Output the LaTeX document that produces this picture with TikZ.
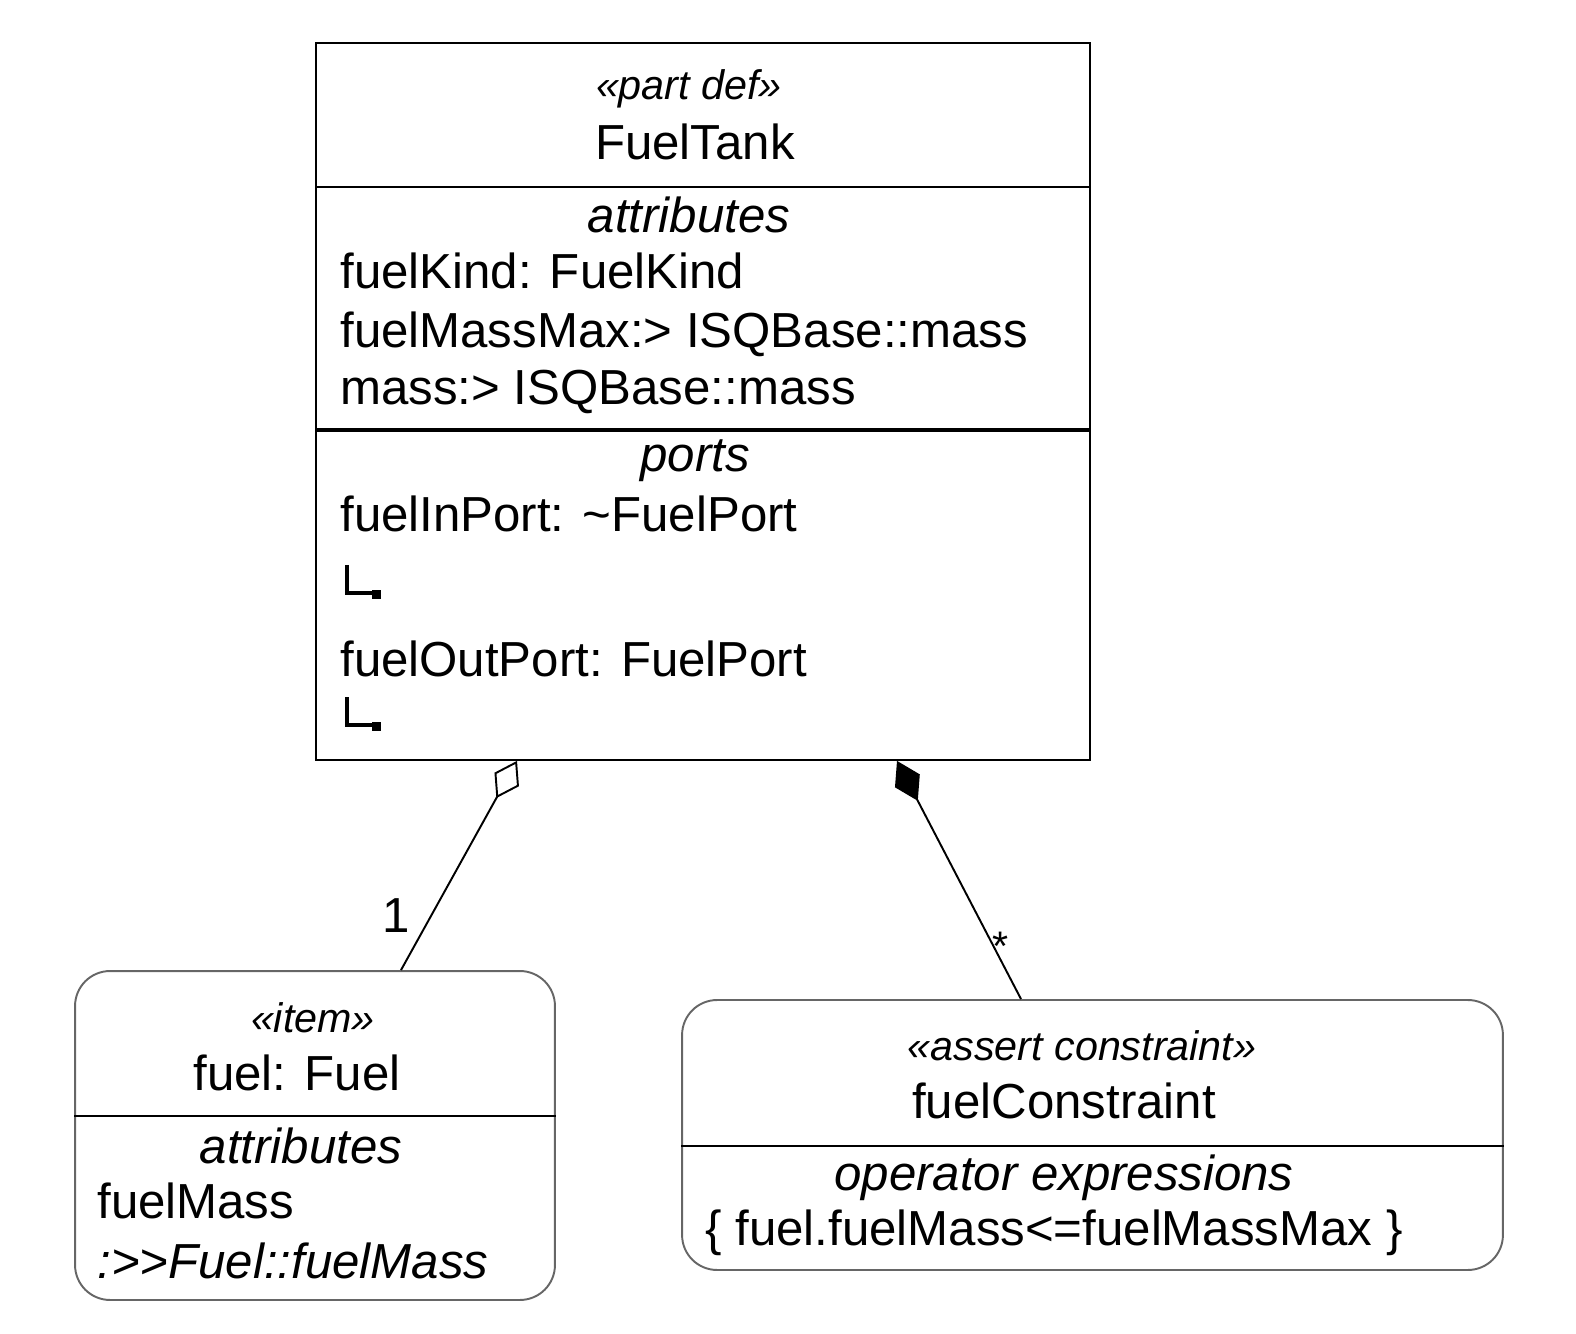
\documentclass[tikz,border=0pt]{standalone}
\usepackage{fontspec}
\setmainfont{Liberation Sans}
\usetikzlibrary{calc,arrows.meta,positioning}

\tikzset{
	blockbox/.style={draw, line width=1.1pt, inner sep=0pt},
	roundbox/.style={draw=black!60, line width=1.1pt, inner sep=0pt, rounded corners=0.7cm},
	stereo/.style={font=\fontsize{23.5}{28}\selectfont\itshape, inner sep=0pt, anchor=base},
	title/.style={font=\fontsize{28}{34}\selectfont, inner sep=0pt, anchor=base},
	heading/.style={font=\fontsize{28}{34}\selectfont\itshape, inner sep=0pt, anchor=base},
	entry/.style={font=\fontsize{28}{34}\selectfont, inner sep=0pt, anchor=base west},
	aggr/.style={line width=1.1pt, -{Diamond[open,length=0.85cm,width=0.56cm]}},
	compo/.style={line width=1.1pt, -{Diamond[length=0.9cm,width=0.56cm]}},
}

\begin{document}
\begin{tikzpicture}[x=0.02cm,y=-0.02cm]
	\useasboundingbox (0,0) rectangle (1576,1334);
	% part def box
	\node[blockbox, minimum width=15.48cm, minimum height=14.34cm] (tank) at (703,401.5) {};
	\draw[line width=1.1pt] (tank.west |- 0,187) -- (tank.east |- 0,187);
	\draw[line width=2.3pt] (tank.west |- 0,430) -- (tank.east |- 0,430);
	\node[stereo] (tankstereo) at (689,100) {«part def»};
	\node[title] (tankname) at (695,160) {FuelTank};
	\node[heading] (tankattr) at (689,233) {attributes};
	\node[entry] (kind) at (340,289) {fuelKind: FuelKind};
	\node[entry] (massmax) at (340,348) {fuelMassMax:> ISQBase::mass};
	\node[entry] (mass) at (340,405) {mass:> ISQBase::mass};
	\node[heading] (tankports) at (695,472) {ports};
	\node[entry] (inport) at (340,532) {fuelInPort: \textasciitilde FuelPort};
	\node[entry] (outport) at (340,677) {fuelOutPort: FuelPort};
	\foreach \py in {593,725}{
		\draw[line width=2.2pt] (347,\py-28) -- (347,\py) -- (374,\py);
		\fill (372,\py-3) rectangle (381,\py+6);
	}
	% item box
	\node[roundbox, minimum width=9.6cm, minimum height=6.58cm] (fuel) at (315,1135.5) {};
	\draw[line width=1.1pt] (fuel.west |- 0,1116) -- (fuel.east |- 0,1116);
	\node[stereo] (fuelstereo) at (313,1032) {«item»};
	\node[title] (fuelname) at (297,1090) {fuel: Fuel};
	\node[heading] (fuelattr) at (301,1163) {attributes};
	\node[entry] (fuelmass) at (97,1218) {fuelMass};
	\node[entry, font=\fontsize{28}{34}\selectfont\itshape] (redef) at (97,1278) {:>{}>Fuel::fuelMass};
	% constraint box
	\node[roundbox, minimum width=16.42cm, minimum height=5.4cm] (cons) at (1092.5,1135) {};
	\draw[line width=1.1pt] (cons.west |- 0,1146) -- (cons.east |- 0,1146);
	\node[stereo] (consstereo) at (1082,1060) {«assert constraint»};
	\node[title] (consname) at (1064,1118) {fuelConstraint};
	\node[heading] (consexpr) at (1064,1190) {operator expressions};
	\node[entry] (consbody) at (705,1245) {\{ fuel.fuelMass<=fuelMassMax \}};
	% connectors
	\draw[aggr] ($(fuel.north)+(86,0)$) -- node[pos=0.26, anchor=east, xshift=-0.4cm, font=\fontsize{28}{34}\selectfont, inner sep=0pt] {1} ($(tank.south)+(-186,0)$);
	\draw[compo] ($(cons.north)+(-71.5,0)$) -- node[pos=0.22, xshift=0.14cm, font=\fontsize{23.5}{28}\selectfont, inner sep=0pt] {*} ($(tank.south)+(194,0)$);
\end{tikzpicture}
\end{document}
